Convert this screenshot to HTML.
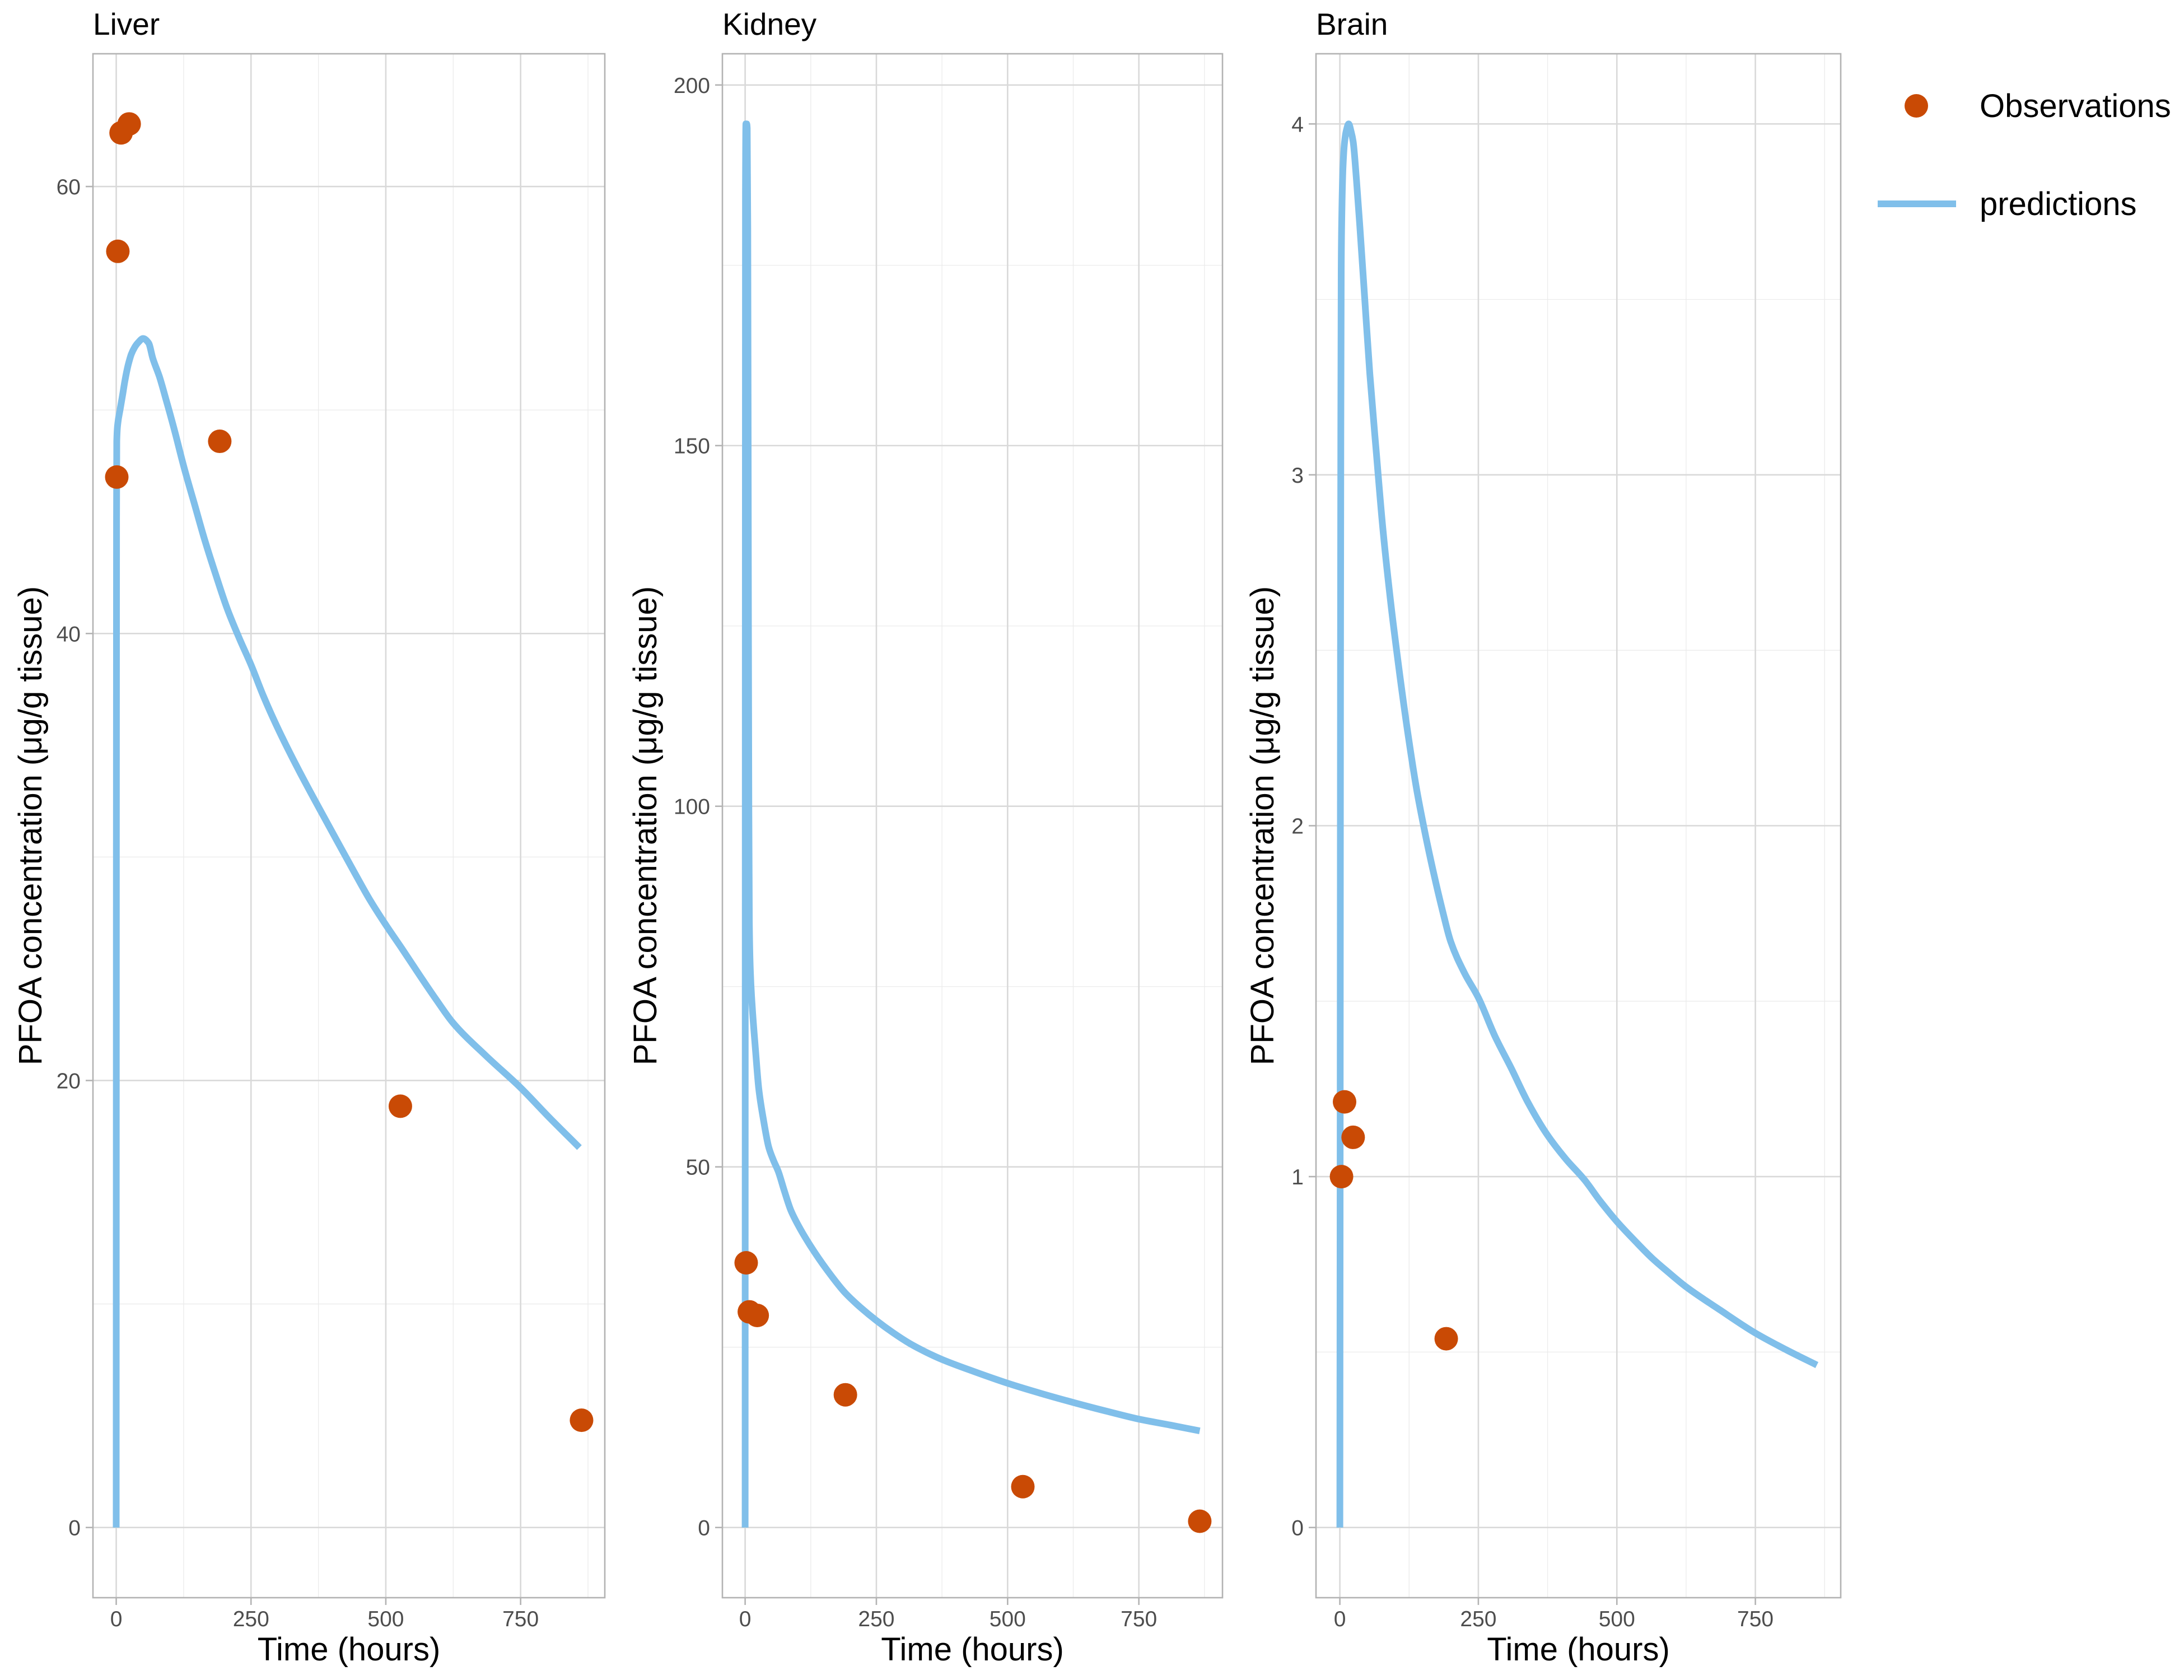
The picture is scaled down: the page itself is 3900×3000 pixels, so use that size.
<!DOCTYPE html>
<html><head><meta charset="utf-8"><title>PFOA concentration by tissue</title>
<style>
html,body{margin:0;padding:0;background:#fff;}
svg{display:block;font-family:"Liberation Sans",Arial,sans-serif;}
</style></head>
<body>
<svg id="chart" width="3900" height="3000" viewBox="0 0 3900 3000" xmlns="http://www.w3.org/2000/svg">
<rect x="0" y="0" width="3900" height="3000" fill="#ffffff"/>
<g id="legend">
  <g>
    <circle cx="3422" cy="189" r="21" fill="#c94a05"/>
    <text x="3535" y="209" font-size="58" fill="#000">Observations</text>
  </g>
  <g>
    <line x1="3353" y1="364" x2="3493" y2="364" stroke="#80bfea" stroke-width="12"/>
    <text x="3535" y="384" font-size="58" fill="#000">predictions</text>
  </g>
</g>
</svg>
<script>
// ---- Data arrays ----
const xTicks = [0, 250, 500, 750];
const xMinorTicks = [125, 375, 625, 875];

const liverObsTime = [1, 3, 9, 24, 192, 527, 863];
const liverObsValue = [47.0, 57.1, 62.4, 62.8, 48.6, 18.85, 4.8];
const liverPredTime = [0, 0.3, 0.6, 1, 3, 7, 12, 16, 22, 28, 34, 40, 50, 60, 68, 80, 92, 108, 125, 145, 164, 185, 206, 228, 250, 273, 297, 336, 376, 410, 442, 470, 499, 530, 563, 594, 624, 686, 749, 805, 859];
const liverPredValue = [0, 30, 45, 48.6, 49.4, 50.0, 50.7, 51.3, 52.0, 52.5, 52.8, 53.0, 53.2, 53.0, 52.3, 51.5, 50.5, 49.1, 47.5, 45.8, 44.2, 42.6, 41.1, 39.8, 38.6, 37.2, 35.9, 34.0, 32.2, 30.7, 29.3, 28.1, 27.0, 25.9, 24.7, 23.6, 22.6, 21.1, 19.7, 18.3, 17.0];
const liverYTicks = [0, 20, 40, 60];
const liverYMinor = [10, 30, 50];

const kidneyObsTime = [2, 8, 23, 191, 529, 866];
const kidneyObsValue = [36.7, 29.9, 29.4, 18.4, 5.66, 0.87];
const kidneyPredTime = [0, 0.3, 0.7, 1.5, 3, 4, 5, 6, 7, 8, 10, 14, 20, 26, 35, 45, 54, 63, 75, 87, 105, 124, 157, 191, 220, 250, 282, 314, 345, 375, 437, 500, 563, 627, 690, 752, 810, 866];
const kidneyPredValue = [0, 120, 185, 194.6, 194.6, 194, 180, 140, 100, 84, 77, 71.7, 66, 60.8, 56.5, 52.7, 50.9, 49.4, 46.6, 44.0, 41.4, 39.1, 35.6, 32.5, 30.5, 28.7, 27.0, 25.5, 24.3, 23.3, 21.6, 20.0, 18.6, 17.3, 16.1, 15.0, 14.2, 13.4];
const kidneyYTicks = [0, 50, 100, 150, 200];
const kidneyYMinor = [25, 75, 125, 175];

const brainObsTime = [3, 8.5, 24, 192];
const brainObsValue = [1.0, 1.213, 1.112, 0.538];
const brainPredTime = [0, 0.4, 0.8, 1.2, 1.7, 2.4, 3.5, 5.5, 8, 11.5, 16, 20, 24, 30, 36, 45, 54, 66, 78, 93, 109, 124, 139, 155, 170, 185, 200, 225, 250, 280, 309, 340, 374, 408, 442, 470, 500, 532, 564, 594, 624, 687, 749, 805, 861];
const brainPredValue = [0, 0.8, 1.7, 2.5, 3.1, 3.58, 3.74, 3.87, 3.94, 3.98, 4.0, 3.98, 3.95, 3.84, 3.71, 3.50, 3.29, 3.06, 2.84, 2.62, 2.42, 2.25, 2.10, 1.97, 1.86, 1.76, 1.67, 1.58, 1.51, 1.40, 1.31, 1.21, 1.12, 1.05, 0.99, 0.93, 0.872, 0.818, 0.767, 0.726, 0.687, 0.619, 0.555, 0.507, 0.463];
const brainYTicks = [0, 1, 2, 3, 4];
const brainYMinor = [0.5, 1.5, 2.5, 3.5];

// ---- Layout ----
const NS = 'http://www.w3.org/2000/svg';
const svg = document.getElementById('chart');
const panelTop = 96, panelBottom = 2853;

function mk(tag, attrs, parent) {
  const el = document.createElementNS(NS, tag);
  for (const k in attrs) el.setAttribute(k, attrs[k]);
  parent.appendChild(el);
  return el;
}
function range(a) { return [Math.min.apply(null, a), Math.max.apply(null, a)]; }

// monotone cubic path through pixel points (x increasing)
function monotonePath(px, py) {
  const n = px.length;
  if (n < 3) return 'M' + px[0] + ',' + py[0] + 'L' + px[1] + ',' + py[1];
  const dx = [], s = [], m = new Array(n);
  for (let i = 0; i < n - 1; i++) { dx[i] = Math.max(px[i + 1] - px[i], 1e-6); s[i] = (py[i + 1] - py[i]) / dx[i]; }
  m[0] = s[0]; m[n - 1] = s[n - 2];
  for (let i = 1; i < n - 1; i++) {
    if (s[i - 1] * s[i] <= 0) m[i] = 0;
    else { const w1 = 2 * dx[i] + dx[i - 1], w2 = dx[i] + 2 * dx[i - 1]; m[i] = (w1 + w2) / (w1 / s[i - 1] + w2 / s[i]); }
  }
  let d = 'M' + px[0].toFixed(1) + ',' + py[0].toFixed(1);
  for (let i = 0; i < n - 1; i++) {
    const h = dx[i] / 3;
    d += 'C' + (px[i] + h).toFixed(1) + ',' + (py[i] + m[i] * h).toFixed(1) + ' ' +
         (px[i + 1] - h).toFixed(1) + ',' + (py[i + 1] - m[i + 1] * h).toFixed(1) + ' ' +
         px[i + 1].toFixed(1) + ',' + py[i + 1].toFixed(1);
  }
  return d;
}

function drawPanel(cfg) {
  const g = mk('g', {}, svg);
  
  

  const allT = cfg.obsT.concat(cfg.predT);
  const allV = cfg.obsV.concat(cfg.predV);
  const [tmin, tmax] = range(allT.concat([0]));
  const [vmin, vmax] = range(allV.concat([0]));
  const tpad = (tmax - tmin) * 0.05, vpad = (vmax - vmin) * 0.05;
  const dx0 = tmin - tpad, dx1 = tmax + tpad, dy0 = vmin - vpad, dy1 = vmax + vpad;
  const L = cfg.left, R = cfg.right;
  const xs = t => L + (t - dx0) / (dx1 - dx0) * (R - L);
  const ys = v => panelBottom - (v - dy0) / (dy1 - dy0) * (panelBottom - panelTop);

  cfg.yMinor.forEach(v => {
    const l = mk('line', {x1: L, x2: R, y1: ys(v), y2: ys(v), stroke: '#ebebeb', 'stroke-width': 1.3}, g);
    
    
  });
  xMinorTicks.forEach(t => {
    const l = mk('line', {x1: xs(t), x2: xs(t), y1: panelTop, y2: panelBottom, stroke: '#ebebeb', 'stroke-width': 1.3}, g);
    
    
  });
  cfg.yTicks.forEach(v => {
    const y = ys(v);
    const l = mk('line', {x1: L, x2: R, y1: y, y2: y, stroke: '#d9d9d9', 'stroke-width': 2.6}, g);
    
    
    const tk = mk('line', {x1: L - 13, x2: L, y1: y, y2: y, stroke: '#b3b3b3', 'stroke-width': 2.6}, g);
    
    
    const tx = mk('text', {x: L - 22, y: y + 14, 'font-size': 39, fill: '#4d4d4d', 'text-anchor': 'end'}, g);
    tx.textContent = String(v);
    
    
  });
  xTicks.forEach(t => {
    const x = xs(t);
    const l = mk('line', {x1: x, x2: x, y1: panelTop, y2: panelBottom, stroke: '#d9d9d9', 'stroke-width': 2.6}, g);
    
    
    const tk = mk('line', {x1: x, x2: x, y1: panelBottom, y2: panelBottom + 13, stroke: '#b3b3b3', 'stroke-width': 2.6}, g);
    
    
    const tx = mk('text', {x: x, y: 2904, 'font-size': 39, fill: '#4d4d4d', 'text-anchor': 'middle'}, g);
    tx.textContent = String(t);
    
    
  });

  const px = cfg.predT.map(xs), py = cfg.predV.map(ys);
  const p = mk('path', {d: monotonePath(px, py), fill: 'none', stroke: '#80bfea', 'stroke-width': 12, 'stroke-linejoin': 'round', 'stroke-linecap': 'butt'}, g);
  
  

  cfg.obsT.forEach((t, i) => {
    const c = mk('circle', {cx: xs(t), cy: ys(cfg.obsV[i]), r: 21, fill: '#c94a05'}, g);
    
    
  });

  const b = mk('rect', {x: L, y: panelTop, width: R - L, height: panelBottom - panelTop, fill: 'none', stroke: '#b3b3b3', 'stroke-width': 2.6}, g);
  
  

  const ft = mk('text', {x: L, y: 62, 'font-size': 55, fill: '#000'}, g);
  ft.textContent = cfg.title;
  
  

  const xt = mk('text', {x: (L + R) / 2, y: 2965, 'font-size': 58, fill: '#000', 'text-anchor': 'middle'}, g);
  xt.textContent = 'Time (hours)';
  
  

  const cy = (panelTop + panelBottom) / 2;
  const yt = mk('text', {x: cfg.yTitleX, y: cy, 'font-size': 58, fill: '#000', 'text-anchor': 'middle', transform: 'rotate(-90 ' + cfg.yTitleX + ' ' + cy + ')'}, g);
  yt.textContent = 'PFOA concentration (\u03bcg/g tissue)';
  
  
}

drawPanel({key: 'liver', title: 'Liver', left: 166, right: 1080, yTitleX: 74,
  obsT: liverObsTime, obsV: liverObsValue, predT: liverPredTime, predV: liverPredValue,
  yTicks: liverYTicks, yMinor: liverYMinor});
drawPanel({key: 'kidney', title: 'Kidney', left: 1290, right: 2183, yTitleX: 1172,
  obsT: kidneyObsTime, obsV: kidneyObsValue, predT: kidneyPredTime, predV: kidneyPredValue,
  yTicks: kidneyYTicks, yMinor: kidneyYMinor});
drawPanel({key: 'brain', title: 'Brain', left: 2350, right: 3287, yTitleX: 2274,
  obsT: brainObsTime, obsV: brainObsValue, predT: brainPredTime, predV: brainPredValue,
  yTicks: brainYTicks, yMinor: brainYMinor});
svg.appendChild(document.getElementById('legend'));
</script>
</body></html>
